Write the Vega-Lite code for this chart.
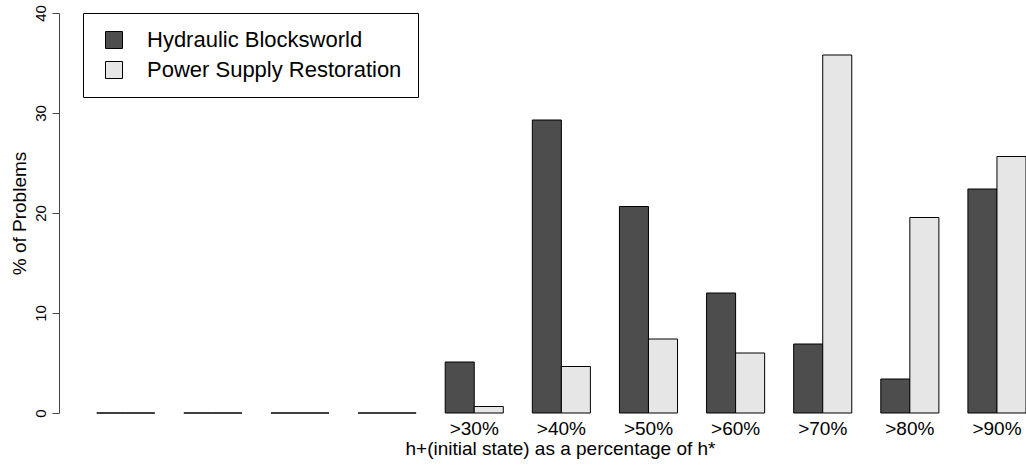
{
  "$schema": "https://vega.github.io/schema/vega-lite/v6.json",
  "width": 967,
  "height": 400,
  "autosize": {"type": "none"},
  "padding": {"left": 59, "top": 13, "right": 0, "bottom": 53},
  "background": "white",
  "config": {
    "view": {"stroke": null},
    "font": "Liberation Sans"
  },
  "data": {
    "values": [
      {"group": " ", "series": "Hydraulic Blocksworld", "pct": 0},
      {"group": " ", "series": "Power Supply Restoration", "pct": 0},
      {"group": "  ", "series": "Hydraulic Blocksworld", "pct": 0},
      {"group": "  ", "series": "Power Supply Restoration", "pct": 0},
      {"group": "   ", "series": "Hydraulic Blocksworld", "pct": 0},
      {"group": "   ", "series": "Power Supply Restoration", "pct": 0},
      {"group": "    ", "series": "Hydraulic Blocksworld", "pct": 0},
      {"group": "    ", "series": "Power Supply Restoration", "pct": 0},
      {"group": ">30%", "series": "Hydraulic Blocksworld", "pct": 5.1},
      {"group": ">30%", "series": "Power Supply Restoration", "pct": 0.65},
      {"group": ">40%", "series": "Hydraulic Blocksworld", "pct": 29.3},
      {"group": ">40%", "series": "Power Supply Restoration", "pct": 4.65},
      {"group": ">50%", "series": "Hydraulic Blocksworld", "pct": 20.65},
      {"group": ">50%", "series": "Power Supply Restoration", "pct": 7.4},
      {"group": ">60%", "series": "Hydraulic Blocksworld", "pct": 12.0},
      {"group": ">60%", "series": "Power Supply Restoration", "pct": 6.0},
      {"group": ">70%", "series": "Hydraulic Blocksworld", "pct": 6.9},
      {"group": ">70%", "series": "Power Supply Restoration", "pct": 35.8},
      {"group": ">80%", "series": "Hydraulic Blocksworld", "pct": 3.4},
      {"group": ">80%", "series": "Power Supply Restoration", "pct": 19.55},
      {"group": ">90%", "series": "Hydraulic Blocksworld", "pct": 22.4},
      {"group": ">90%", "series": "Power Supply Restoration", "pct": 25.65}
    ]
  },
  "mark": {"type": "bar", "stroke": "black", "strokeWidth": 1},
  "encoding": {
    "x": {
      "field": "group",
      "type": "nominal",
      "sort": null,
      "scale": {"paddingInner": 0.33333, "paddingOuter": 0.2165, "align": 1},
      "axis": {
        "title": "h+(initial state) as a percentage of h*",
        "labelAngle": 0,
        "domain": false,
        "ticks": false,
        "labelFontSize": 19,
        "labelColor": "black",
        "labelBaseline": "alphabetic",
        "labelPadding": 21,
        "titleFontSize": 19,
        "titleFontWeight": "normal",
        "titleColor": "black",
        "titleBaseline": "alphabetic",
        "titleAlign": "center",
        "titleAnchor": null,
        "titleX": 501,
        "titleY": 41
      }
    },
    "xOffset": {
      "field": "series",
      "type": "nominal",
      "sort": ["Hydraulic Blocksworld", "Power Supply Restoration"],
      "scale": {"paddingInner": 0, "paddingOuter": 0}
    },
    "y": {
      "field": "pct",
      "type": "quantitative",
      "scale": {"domain": [0, 40], "nice": false},
      "axis": {
        "title": "% of Problems",
        "values": [0, 10, 20, 30, 40],
        "grid": false,
        "domainColor": "#444",
        "tickColor": "#444",
        "tickSize": 7,
        "labelAngle": -90,
        "labelAlign": "center",
        "labelBaseline": "middle",
        "labelPadding": 12,
        "labelFontSize": 15,
        "labelColor": "black",
        "titleFontSize": 19,
        "titleFontWeight": "normal",
        "titleColor": "black",
        "titleAngle": -90,
        "titleAlign": "center",
        "titleBaseline": "middle",
        "titleAnchor": null,
        "titleX": -40,
        "titleY": 200
      }
    },
    "color": {
      "field": "series",
      "type": "nominal",
      "scale": {
        "domain": ["Hydraulic Blocksworld", "Power Supply Restoration"],
        "range": ["#4d4d4d", "#e6e6e6"]
      },
      "legend": {
        "title": null,
        "orient": "none",
        "legendX": 24,
        "legendY": 0,
        "padding": 16,
        "strokeColor": "black",
        "fillColor": "white",
        "cornerRadius": 0,
        "symbolType": "square",
        "symbolSize": 289,
        "symbolStrokeColor": "black",
        "symbolStrokeWidth": 1,
        "symbolOffset": 4,
        "labelOffset": 22,
        "labelFontSize": 22,
        "labelColor": "black",
        "rowPadding": 8,
        "labelLimit": 400
      }
    }
  }
}
